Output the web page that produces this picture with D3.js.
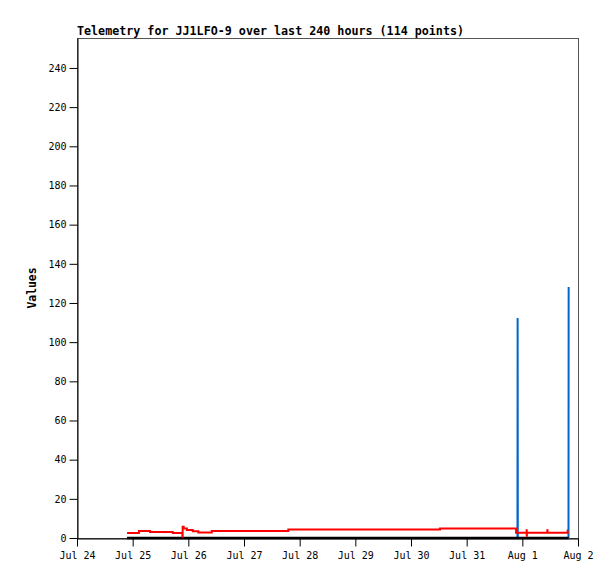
<!DOCTYPE html>
<html><head><meta charset="utf-8">
<script src="https://cdn.jsdelivr.net/npm/d3@7"></script>
<style>
body{margin:0;background:#fff;}
svg{display:block;}
text{font-family:"DejaVu Sans Mono","Liberation Mono",monospace;}
</style></head>
<body>
<svg id="chart" width="615" height="579"></svg>
<script>
// ---- data (hours since Jul 24 00:00 UTC) ----
const titleText = "Telemetry for JJ1LFO-9 over last 240 hours (114 points)";
const yLabel = "Values";
const xTickLabels = ["Jul 24","Jul 25","Jul 26","Jul 27","Jul 28","Jul 29","Jul 30","Jul 31","Aug 1","Aug 2"];
const yTicks = [0,20,40,60,80,100,120,140,160,180,200,220,240];

const redHours  = [21.6, 26.7, 31.5, 41.3, 45.45, 45.55, 46.0, 47.4, 49.9, 52.3, 58.1, 91.1, 156.5, 189.3, 193.85, 193.9, 193.95, 202.75, 202.85, 211.55, 211.7];
const redValues = [2.5,  3.6,  3.1,  2.6,  0.6,   5.8,   4.8,  4.1,  3.5,  2.8,  3.6,  4.3,  4.8,   2.7,   4.0,    1.2,   2.7,    3.9,    2.7,    3.8,    3.8];

const blueHours  = [21.6, 189.9, 189.97, 190.05, 211.9, 211.97];
const blueValues = [0,    0,     112.3,  0,      0,     128.2];

const blackHours  = [21.6, 211.97];
const blackValues = [0,    0];

// ---- layout ----
const W = 615, H = 579;
const m = {left:77, right:37, top:38, bottom:41};
const start = new Date(Date.UTC(2023,6,24,0,0));
const hoursToDate = h => new Date(start.getTime() + h*3600e3);

const svg = d3.select("#chart");
const x = d3.scaleUtc()
  .domain([start, d3.utcDay.offset(start, xTickLabels.length-1)])
  .range([m.left, W - m.right]);
const y = d3.scaleLinear().domain([0, 255.3]).range([H - m.bottom, m.top]);

// frame (top/right gray)
svg.append("rect").attr("x", m.left+0.5).attr("y", m.top+0.5)
  .attr("width", W-m.right-m.left).attr("height", H-m.bottom-m.top)
  .attr("fill","none").attr("stroke","#555").attr("stroke-width",1);

// title
svg.append("text").attr("x", m.left).attr("y", 35)
  .attr("font-size", "11.7px").attr("font-weight","bold").attr("fill","#000")
  .text(titleText);

// y axis
const yAxis = d3.axisLeft(y).tickValues(yTicks).tickSize(8).tickPadding(3).tickSizeOuter(0);
const gy = svg.append("g").attr("transform", `translate(${m.left+0.5},0)`).call(yAxis);
gy.selectAll("text").attr("font-size","10px").attr("fill","#000").style("font-family","'DejaVu Sans Mono',monospace");
gy.select(".domain").attr("stroke","#000");

// x axis
const xTickDates = xTickLabels.map((d,i) => d3.utcDay.offset(start, i));
const xAxis = d3.axisBottom(x).tickValues(xTickDates)
  .tickFormat((d,i) => xTickLabels[i]).tickSize(8).tickPadding(5).tickSizeOuter(0);
const gx = svg.append("g").attr("transform", `translate(0,${H-m.bottom+0.5})`).call(xAxis);
gx.selectAll("text").attr("font-size","10px").attr("fill","#000").style("font-family","'DejaVu Sans Mono',monospace");
gx.select(".domain").attr("stroke","#000");

// y label
svg.append("text").attr("transform", `translate(36,${(m.top + H - m.bottom)/2}) rotate(-90)`)
  .attr("text-anchor","middle").attr("font-size","11.4px").attr("font-weight","bold")
  .attr("fill","#000").text(yLabel);

// series
const lineStep = d3.line().x(d => x(hoursToDate(d[0]))).y(d => y(d[1])).curve(d3.curveStepAfter);
const lineLin  = d3.line().x(d => x(hoursToDate(d[0]))).y(d => y(d[1]));

svg.append("path").datum(blueHours.map((h,i)=>[h, blueValues[i]]))
  .attr("d", lineLin).attr("fill","none").attr("stroke","#0066cc").attr("stroke-width",2);
svg.append("path").datum(blackHours.map((h,i)=>[h, blackValues[i]]))
  .attr("d", lineLin).attr("fill","none").attr("stroke","#000").attr("stroke-width",2.5);
svg.append("path").datum(redHours.map((h,i)=>[h, redValues[i]]))
  .attr("d", lineStep).attr("fill","none").attr("stroke","#ff0000").attr("stroke-width",2);
</script>
</body></html>
